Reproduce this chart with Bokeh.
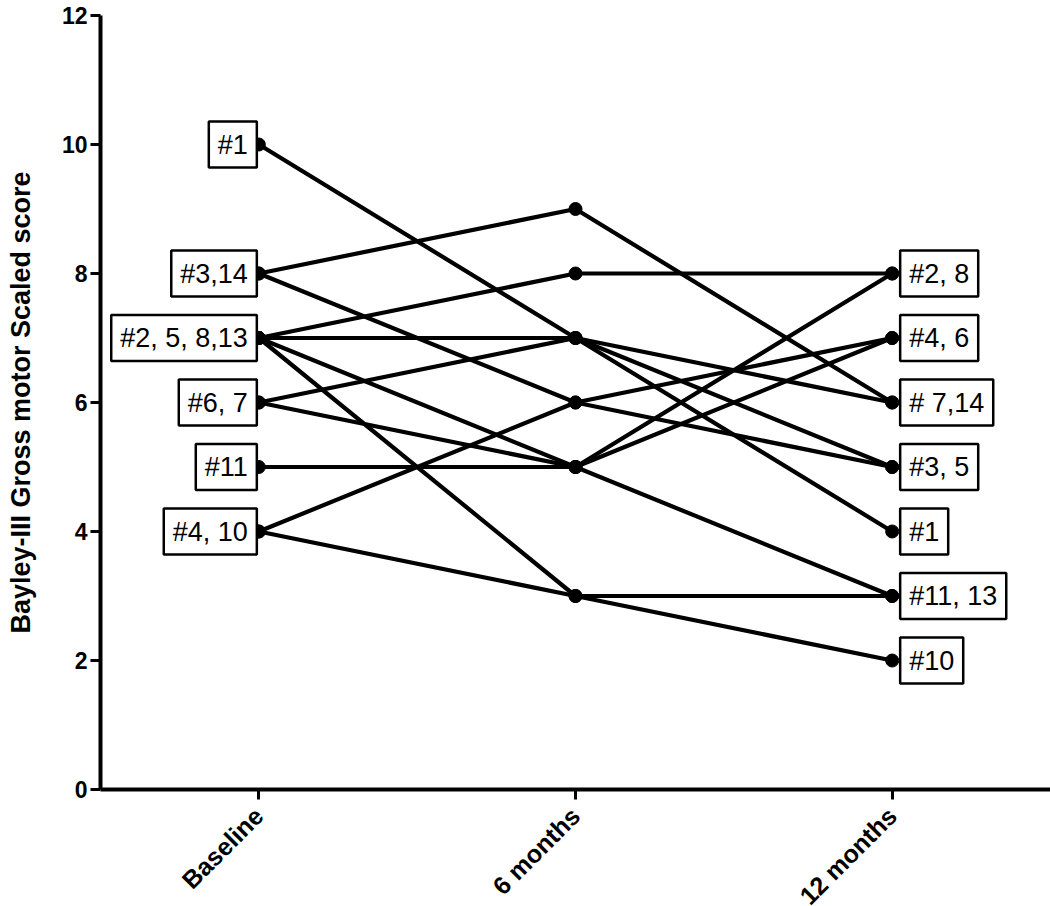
from bokeh.plotting import figure
from bokeh.layouts import column
from bokeh.models import Range1d, FixedTicker, ColumnDataSource
from bokeh.core.properties import value
from bokeh.embed import file_html
from bokeh.resources import INLINE
import math

# ---- data ----
timepoints = ["Baseline", "6 months", "12 months"]
subjects = ["#1", "#2", "#3", "#4", "#5", "#6", "#7", "#8", "#10", "#11", "#13", "#14"]
baseline = [10, 7, 8, 4, 7, 6, 6, 7, 4, 5, 7, 8]
month6 = [7, 8, 6, 6, 7, 5, 7, 5, 3, 5, 3, 9]
month12 = [4, 8, 5, 7, 5, 7, 6, 8, 2, 3, 3, 6]

baseline_labels = ["#1", "#3,14", "#2, 5, 8,13", "#6, 7", "#11", "#4, 10"]
baseline_label_values = [10, 8, 7, 6, 5, 4]
month12_labels = ["#2, 8", "#4, 6", "# 7,14", "#3, 5", "#1", "#11, 13", "#10"]
month12_label_values = [8, 7, 6, 5, 4, 3, 2]

y_ticks = [0, 2, 4, 6, 8, 10, 12]
y_title = "Bayley-III Gross motor Scaled score"

FONT = "Liberation Sans"
xpos = list(range(len(timepoints)))

x_range = Range1d(-0.5, 2.5)

# ---------------- main chart ----------------
MAIN_H = 805
p = figure(width=1050, height=MAIN_H, output_backend="svg", toolbar_location=None,
           x_range=x_range, y_range=Range1d(0, 12),
           min_border_left=100, min_border_right=0, min_border_top=15, min_border_bottom=16)
p.outline_line_color = None
p.xgrid.grid_line_color = None
p.ygrid.grid_line_color = None
p.background_fill_color = "white"
p.border_fill_color = "white"

xs = [xpos for _ in subjects]
ys = [[b, m6, m12] for b, m6, m12 in zip(baseline, month6, month12)]
p.multi_line(xs=xs, ys=ys, line_color="black", line_width=4.2)

for i, series in enumerate([baseline, month6, month12]):
    p.scatter(x=[xpos[i]] * len(series), y=series, size=13, marker="circle",
              fill_color="black", line_color="black")

pad = dict(left=9, right=9, top=8, bottom=8)
src_b = ColumnDataSource(dict(x=[xpos[0]] * len(baseline_labels), y=baseline_label_values,
                              t=baseline_labels))
p.text(x="x", y="y", text="t", source=src_b, text_align="right", text_baseline="middle",
       x_offset=-2, text_font=value(FONT), text_font_size="27px", text_color="black",
       background_fill_color="white", border_line_color="black", border_line_width=2.5,
       padding=pad)
src_m = ColumnDataSource(dict(x=[xpos[2]] * len(month12_labels), y=month12_label_values,
                              t=month12_labels))
p.text(x="x", y="y", text="t", source=src_m, text_align="left", text_baseline="middle",
       x_offset=8, text_font=value(FONT), text_font_size="27px", text_color="black",
       background_fill_color="white", border_line_color="black", border_line_width=2.5,
       padding=pad)

p.xaxis.ticker = FixedTicker(ticks=xpos)
p.xaxis.major_label_overrides = {i: "" for i in xpos}
p.xaxis.major_label_text_font_size = "1px"
p.xaxis.major_label_standoff = 0
p.xaxis.axis_line_width = 4
p.xaxis.axis_line_color = "black"
p.xaxis.major_tick_line_width = 3
p.xaxis.major_tick_line_color = "black"
p.xaxis.major_tick_in = 0
p.xaxis.major_tick_out = 10
p.xaxis.minor_tick_line_color = None

p.yaxis.ticker = FixedTicker(ticks=y_ticks)
p.yaxis.major_label_text_font = FONT
p.yaxis.major_label_text_font_style = "bold"
p.yaxis.major_label_text_font_size = "23px"
p.yaxis.major_label_text_color = "black"
p.yaxis.major_label_standoff = 3
p.yaxis.axis_line_width = 4
p.yaxis.axis_line_color = "black"
p.yaxis.major_tick_line_width = 3
p.yaxis.major_tick_line_color = "black"
p.yaxis.major_tick_in = 0
p.yaxis.major_tick_out = 10
p.yaxis.minor_tick_line_color = None
p.yaxis.axis_label = y_title
p.yaxis.axis_label_text_font = FONT
p.yaxis.axis_label_text_font_style = "bold"
p.yaxis.axis_label_text_font_size = "27px"
p.yaxis.axis_label_text_color = "black"
p.yaxis.axis_label_standoff = 23

# ---------------- strip with the rotated category labels ----------------
STRIP_H = 906 - MAIN_H
q = figure(width=1050, height=STRIP_H, output_backend="svg", toolbar_location=None,
           x_range=x_range, y_range=Range1d(-STRIP_H, 0),
           x_axis_type=None, y_axis_type=None,
           min_border_left=100, min_border_right=0, min_border_top=0, min_border_bottom=0)
q.outline_line_color = None
q.xgrid.grid_line_color = None
q.ygrid.grid_line_color = None
q.background_fill_color = "white"
q.border_fill_color = "white"

LABEL_DROP = 6  # px below the top of the strip
src_x = ColumnDataSource(dict(x=xpos, y=[-LABEL_DROP] * len(xpos), t=timepoints))
q.text(x="x", y="y", text="t", source=src_x, angle=math.pi / 4, text_align="right",
       text_baseline="middle", text_font=value(FONT), text_font_style="bold",
       text_font_size="25px", text_color="black")

layout = column(p, q, spacing=0)
open("out.html", "w").write(file_html(layout, INLINE))
